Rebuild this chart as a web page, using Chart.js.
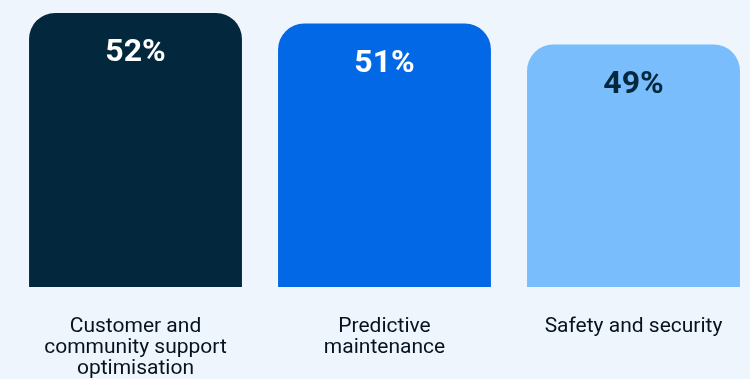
<!DOCTYPE html>
<html>
<head>
<meta charset="utf-8">
<script src="https://cdn.jsdelivr.net/npm/chart.js@4/dist/chart.umd.min.js"></script>
<style>
  html, body { margin: 0; padding: 0; background: #eff5fd; overflow: hidden; }
  #wrap { position: relative; width: 758px; height: 379px; }
</style>
</head>
<body>
<div id="wrap"><canvas id="usecases"></canvas></div>
<script>
// categories and shares (%)
var labels_usecases = [
	["Customer and", "community support", "optimisation"],
	["Predictive", "maintenance"],
	["Safety and security"],
];
var data_usecases = [52, 51, 49];
var colors_bars = ["#03283d", "#0368e6", "#79bdfc"];
var colors_values = ["#ffffff", "#ffffff", "#03283d"];

// writes the percentage inside the top of each bar
var valueLabels = {
	id: "valueLabels",
	afterDatasetsDraw: function (chart) {
		var c = chart.ctx;
		var meta = chart.getDatasetMeta(0);
		c.save();
		c.font = "bold 32px Roboto";
		c.textAlign = "center";
		c.textBaseline = "middle";
		meta.data.forEach(function (bar, i) {
			c.fillStyle = colors_values[i];
			c.fillText(data_usecases[i] + "%", bar.x, bar.y + 40);
		});
		c.restore();
	},
};

var ctx = document.getElementById("usecases").getContext("2d");
var myChart_usecases = new Chart(ctx, {
	type: "bar",
	data: {
		labels: labels_usecases,
		datasets: [
			{
				data: data_usecases,
				backgroundColor: colors_bars,
				borderRadius: { topLeft: 26, topRight: 26, bottomLeft: 0, bottomRight: 0 },
				borderSkipped: false,
				barPercentage: 0.855,
				categoryPercentage: 1,
			},
		],
	},
	options: {
		responsive: true,
		maintainAspectRatio: false,
		animation: false,
		layout: { padding: { left: 11, right: 0, top: 13, bottom: 0 } },
		plugins: { legend: { display: false }, tooltip: { enabled: false } },
		scales: {
			x: {
				grid: { display: false, drawTicks: false },
				border: { display: false },
				afterFit: function (scale) {
					scale.height = 92;
				},
				ticks: {
					padding: 29,
					color: "#06121d",
					font: { family: "Roboto", size: 21, lineHeight: 1 },
					maxRotation: 0,
					autoSkip: false,
				},
			},
			y: {
				display: false,
				min: 26,
				max: 52,
			},
		},
	},
	plugins: [valueLabels],
});
</script>
</body>
</html>
